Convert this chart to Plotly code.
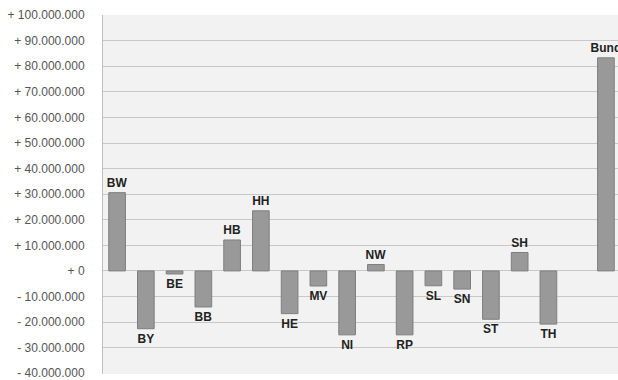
import plotly.graph_objects as go

categories = ["BW", "BY", "BE", "BB", "HB", "HH", "HE", "MV", "NI", "NW",
              "RP", "SL", "SN", "ST", "SH", "TH", " ", "Bund"]
values = [30.6e6, -22.6e6, -1.2e6, -14.1e6, 12.1e6, 23.5e6, -16.7e6, -5.9e6,
          -25.0e6, 2.5e6, -25.0e6, -5.8e6, -7.1e6, -18.9e6, 7.2e6, -20.8e6,
          None, 83.3e6]
labels = [c if c.strip() else "" for c in categories]

tick_vals = [100e6, 90e6, 80e6, 70e6, 60e6, 50e6, 40e6, 30e6, 20e6, 10e6, 0,
             -10e6, -20e6, -30e6, -40e6]
tick_text = ["+ 100.000.000", "+ 90.000.000", "+ 80.000.000", "+ 70.000.000",
             "+ 60.000.000", "+ 50.000.000", "+ 40.000.000", "+ 30.000.000",
             "+ 20.000.000", "+ 10.000.000", "+ 0", "- 10.000.000",
             "- 20.000.000", "- 30.000.000", "- 40.000.000"]

fig = go.Figure(go.Bar(
    x=categories, y=values, text=labels, textposition="outside",
    textfont=dict(family="Liberation Sans, Arial", size=12, color="#222222", weight="bold"),
    cliponaxis=False, constraintext="none",
    marker=dict(color="#999999", line=dict(color="#7f7f7f", width=1)),
    hoverinfo="skip",
))

fig.update_layout(
    width=618, height=380,
    margin=dict(l=103, r=0, t=15, b=4),
    paper_bgcolor="white", plot_bgcolor="#f2f2f2",
    bargap=0.42, showlegend=False,
    font=dict(family="Liberation Sans, Arial", size=12, color="#555555"),
)
fig.update_xaxes(type="category", categoryorder="array", categoryarray=categories,
                 range=[-0.49, 17.42], showticklabels=False, showgrid=False,
                 zeroline=False, showline=False, ticks="")
fig.update_yaxes(range=[-40.3e6, 100.05e6], tickvals=tick_vals, ticktext=tick_text,
                 showgrid=True, gridcolor="#c8c8c8", gridwidth=1,
                 zeroline=True, zerolinecolor="#c8c8c8", zerolinewidth=1,
                 showline=True, linecolor="#c0c0c0", linewidth=1,
                 ticks="outside", ticklen=15, tickcolor="rgba(0,0,0,0)",
                 ticklabeloverflow="allow",
                 tickfont=dict(size=12, color="#555555"))

fig.write_html("out.html")
